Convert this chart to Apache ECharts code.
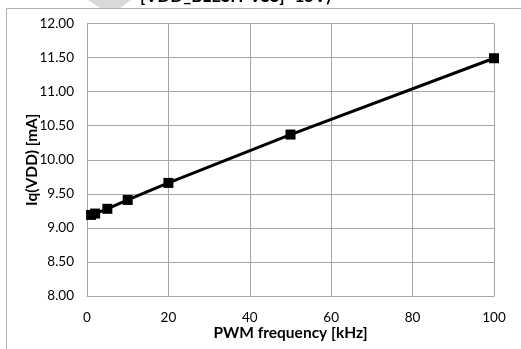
<!DOCTYPE html>
<html><head><meta charset="utf-8">
<script src="https://cdn.jsdelivr.net/npm/echarts@6/dist/echarts.min.js"></script>
<style>html,body{margin:0;padding:0;background:#fff}#c{width:521px;height:349px}</style>
</head><body><div id="c"></div>
<script>
var freqKHz = [1, 2, 5, 10, 20, 50, 100];
var iqVdd = [9.19, 9.21, 9.28, 9.41, 9.66, 10.37, 11.49];
var xTicks = [0, 20, 40, 60, 80, 100];
var yTicks = [8, 8.5, 9, 9.5, 10, 10.5, 11, 11.5, 12];
var titleText = '[VDD_BLESH-VSS]=15V)';
var xName = 'PWM frequency [kHz]';
var yName = 'Iq(VDD) [mA]';

var chart = echarts.init(document.getElementById('c'), null, {renderer: 'canvas'});
var gridCol = '#a6a6a6';
var font = 'Lato, "Open Sans", sans-serif';
chart.setOption({
  animation: false,
  backgroundColor: '#fff',
  graphic: [
    {type: 'polygon', shape: {points: [[88, 0], [131, 0], [120, 8], [100, 8]]}, style: {fill: '#d9d9d9'}, z: 1},
    {type: 'line', shape: {x1: 6.5, y1: 8.5, x2: 521, y2: 8.5}, style: {stroke: '#b0b0b0', lineWidth: 1}},
    {type: 'line', shape: {x1: 6.5, y1: 8.5, x2: 6.5, y2: 349}, style: {stroke: '#b0b0b0', lineWidth: 1}},
    {type: 'text', left: 140, top: -12, style: {text: titleText, font: 'bold 17px ' + font, fill: '#000'}, z: 2}
  ],
  grid: {left: 87, right: 27, top: 23.5, bottom: 53, containLabel: false},
  xAxis: {
    type: 'value', min: 0, max: 100, interval: 20,
    name: xName, nameLocation: 'middle', nameGap: 29, nameMoveOverlap: false,
    nameTextStyle: {fontFamily: font, fontWeight: 'bold', fontSize: 15.5, color: '#000'},
    axisLine: {show: true, lineStyle: {color: gridCol, width: 1}},
    axisTick: {show: false},
    axisLabel: {fontFamily: font, fontSize: 13.5, color: '#000', margin: 15},
    splitLine: {show: true, lineStyle: {color: gridCol, width: 1}}
  },
  yAxis: {
    type: 'value', min: 8, max: 12, interval: 0.5,
    name: yName, nameLocation: 'middle', nameGap: 47, nameMoveOverlap: false,
    nameTextStyle: {fontFamily: font, fontWeight: 'bold', fontSize: 15.5, color: '#000'},
    axisLine: {show: true, lineStyle: {color: gridCol, width: 1}},
    axisTick: {show: false},
    axisLabel: {fontFamily: font, fontSize: 13.5, color: '#000', margin: 13,
      formatter: function (v) { return v.toFixed(2); }},
    splitLine: {show: true, lineStyle: {color: gridCol, width: 1}}
  },
  series: [{
    type: 'line',
    data: freqKHz.map(function (f, i) { return [f, iqVdd[i]]; }),
    symbol: 'rect', symbolSize: 10, showAllSymbol: true,
    lineStyle: {color: '#000', width: 3},
    itemStyle: {color: '#000'},
    z: 5
  }]
});
</script></body></html>
